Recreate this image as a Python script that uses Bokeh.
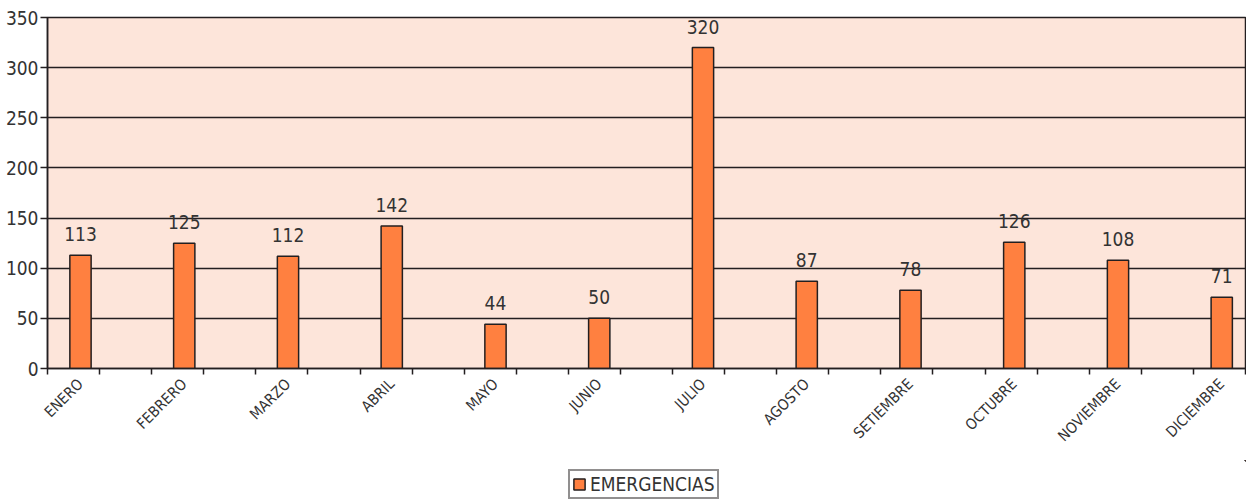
import math
from bokeh.plotting import figure
from bokeh.layouts import column
from bokeh.models import ColumnDataSource, Range1d, FixedTicker, Legend, LegendItem
from bokeh.core.properties import value
from bokeh.embed import file_html
from bokeh.resources import INLINE

# ---- data ----
months = ["ENERO", "FEBRERO", "MARZO", "ABRIL", "MAYO", "JUNIO", "JULIO",
          "AGOSTO", "SETIEMBRE", "OCTUBRE", "NOVIEMBRE", "DICIEMBRE"]
emergencias = [113, 125, 112, 142, 44, 50, 320, 87, 78, 126, 108, 71]
y_ticks = [0, 50, 100, 150, 200, 250, 300, 350]
series_name = "EMERGENCIAS"

# ---- styles ----
FONT = "DejaVu Sans Condensed"
TEXT = "#333333"
DARK = "#231f20"
BAR = "#ff8040"
BG = "#fde5da"

idx = list(range(len(months)))
src = ColumnDataSource(dict(x=idx, y=emergencias, label=[str(v) for v in emergencias]))

x_start, x_end = -0.318, 11.229
p = figure(width=1246, height=460, output_backend="svg", toolbar_location=None,
           x_range=Range1d(x_start, x_end), y_range=Range1d(0, 350),
           min_border_left=47, min_border_top=17, min_border_right=1, min_border_bottom=92)

p.background_fill_color = BG
p.border_fill_color = "white"
p.outline_line_color = DARK
p.outline_line_width = 1.5

bars = p.vbar(x="x", top="y", width=0.205, source=src,
              fill_color=BAR, line_color=DARK, line_width=1.5)

p.text(x="x", y="y", text="label", source=src, text_align="center",
       text_baseline="alphabetic", y_offset=-21, text_font=value(FONT),
       text_font_size="19px", text_color=TEXT)

# x axis
n_minor = 24
minor = [x_start + k * (x_end - x_start) / (n_minor - 1) for k in range(n_minor)]
p.xaxis.ticker = FixedTicker(ticks=idx, minor_ticks=minor)
p.xaxis.major_label_overrides = {i: m for i, m in enumerate(months)}
p.xaxis.major_tick_out = 0
p.xaxis.major_tick_in = 0
p.xaxis.minor_tick_out = 6
p.xaxis.minor_tick_in = 0
p.xaxis.minor_tick_line_color = DARK
p.xaxis.minor_tick_line_width = 1.5
p.xaxis.major_label_orientation = math.pi / 4
p.xaxis.major_label_standoff = 7
p.xaxis.major_label_text_font = FONT
p.xaxis.major_label_text_font_size = "15px"
p.xaxis.major_label_text_color = TEXT
p.xaxis.axis_line_color = DARK
p.xaxis.axis_line_width = 1.5
p.xgrid.visible = False

# y axis
p.yaxis.ticker = FixedTicker(ticks=y_ticks, minor_ticks=[])
p.yaxis.major_tick_out = 7
p.yaxis.major_tick_in = 0
p.yaxis.major_tick_line_color = DARK
p.yaxis.major_tick_line_width = 1.5
p.yaxis.major_label_standoff = 2
p.yaxis.major_label_text_font = FONT
p.yaxis.major_label_text_font_size = "19px"
p.yaxis.major_label_text_color = TEXT
p.yaxis.axis_line_color = DARK
p.yaxis.axis_line_width = 1.5
p.ygrid.grid_line_color = DARK
p.ygrid.grid_line_width = 1.5

# legend strip below the chart (the series is re-plotted out of view so the
# legend can show its swatch)
leg = figure(width=1246, height=40, output_backend="svg", toolbar_location=None,
             x_range=Range1d(-100, -99), y_range=Range1d(-100, -99),
             x_axis_type=None, y_axis_type=None, min_border=0)
leg.outline_line_color = None
leg.xgrid.visible = False
leg.ygrid.visible = False
leg.background_fill_color = "white"
leg.border_fill_color = "white"
swatch = leg.vbar(x="x", top="y", width=0.205, source=src,
                  fill_color=BAR, line_color=DARK, line_width=1.5)
legend = Legend(items=[LegendItem(label=series_name, renderers=[swatch])],
                location=(521, 1), orientation="horizontal",
                border_line_color=DARK, border_line_width=2,
                background_fill_color="white", background_fill_alpha=1.0,
                label_text_font=FONT, label_text_font_size="19px", label_text_color=TEXT,
                glyph_width=14, glyph_height=14, padding=2, margin=0,
                label_standoff=4, spacing=0)
leg.add_layout(legend, "center")

layout = column(p, leg, spacing=0)
open("out.html", "w").write(file_html(layout, INLINE))
